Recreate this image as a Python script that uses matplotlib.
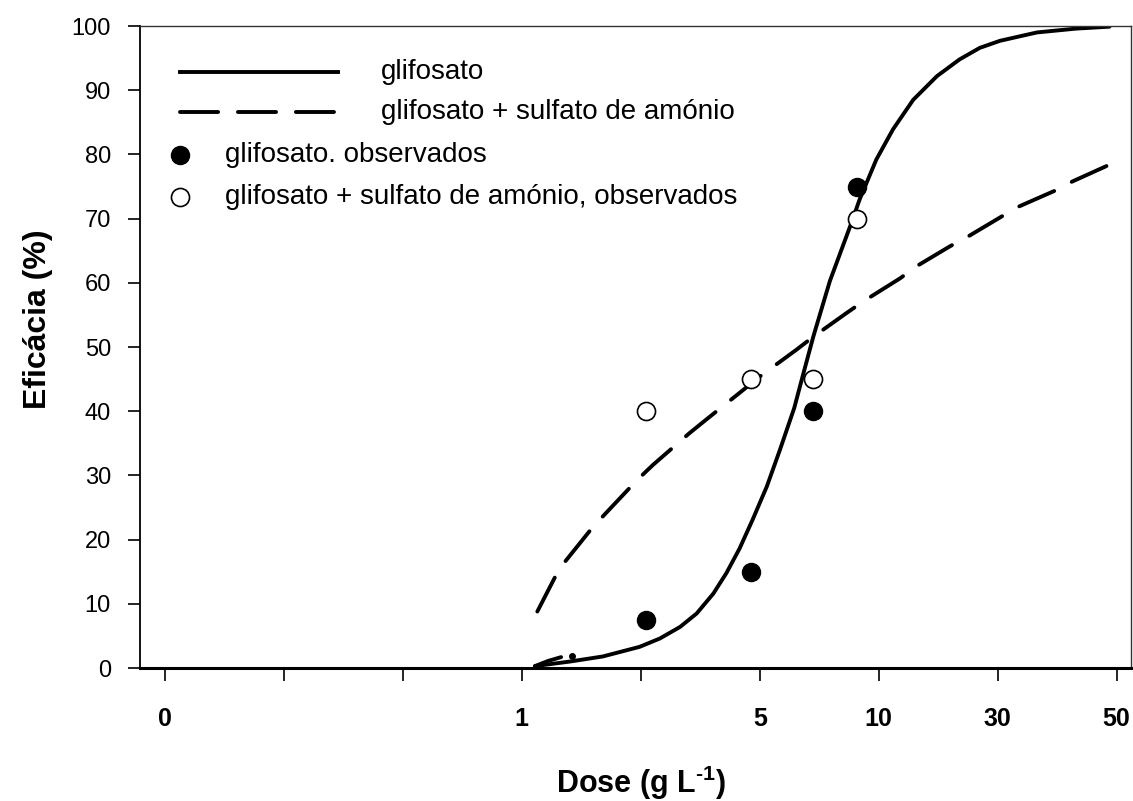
import matplotlib
matplotlib.use('Agg')
import matplotlib.pyplot as plt

plt.rcParams['font.family'] = ['Liberation Sans', 'DejaVu Sans']
plt.rcParams['mathtext.fontset'] = 'custom'
plt.rcParams['mathtext.bf'] = 'Liberation Sans:bold'
plt.rcParams['mathtext.rm'] = 'Liberation Sans:bold'

# x values are positions along the (irregularly labelled) dose axis, in tick steps
tick_pos = [0, 1, 2, 3, 4, 5, 6, 7, 8]
tick_labels = ['0', '', '', '1', '', '5', '10', '30', '50']
y_ticks = [0, 10, 20, 30, 40, 50, 60, 70, 80, 90, 100]

# observed efficacy
x_obs = [4.04, 4.93, 5.45, 5.82]
glif_obs = [7.5, 15, 40, 75]
glif_sa_obs = [40, 45, 45, 70]

# fitted curve, glifosato
glif_x = [3.11, 3.40, 3.68, 3.99, 4.16, 4.33, 4.47, 4.61, 4.72, 4.83, 4.94, 5.06,
          5.17, 5.29, 5.36, 5.45, 5.59, 5.76, 5.84, 5.98, 6.12, 6.29, 6.49, 6.68,
          6.85, 7.02, 7.33, 7.66, 7.94]
glif_y = [0.3, 1.0, 1.8, 3.3, 4.6, 6.4, 8.5, 11.6, 14.8, 18.6, 23.1, 28.3,
          34.0, 40.5, 45.4, 51.6, 60.3, 68.8, 73.0, 79.2, 83.9, 88.5, 92.2, 94.8,
          96.6, 97.7, 99.0, 99.6, 99.9]

# fitted curve, glifosato + sulfato de amonio
sa_x = [3.13, 3.28, 3.36, 3.59, 3.70, 3.97, 4.10, 4.41, 4.55, 4.86, 5.00, 5.31,
        5.45, 5.73, 5.87, 6.18, 6.32, 6.60, 6.75, 7.04, 7.18, 7.50, 7.63, 7.94]
sa_y = [8.8, 14.2, 16.5, 21.8, 24.0, 29.3, 31.6, 36.6, 38.7, 43.3, 45.4, 49.6,
        51.6, 55.3, 57.1, 60.7, 62.6, 65.7, 67.2, 70.4, 71.9, 74.5, 75.8, 78.4]

# small stray dash-dot fragment near the start of the curves
frag_x = [3.11, 3.22, 3.33]
frag_y = [0.3, 1.1, 1.7]
frag_dot_x = [3.42]
frag_dot_y = [1.9]

fig = plt.figure(figsize=(11.33, 8.01), dpi=100)
ax = fig.add_axes([0.1236, 0.166, 0.8745, 0.8015])

dash = (9.8, 5.1)
ax.plot(glif_x, glif_y, color='black', lw=2.8, solid_capstyle='round', solid_joinstyle='round')
ax.plot(sa_x, sa_y, color='black', lw=2.8, dashes=dash, dash_capstyle='round')
ax.plot(frag_x, frag_y, color='black', lw=2.8, solid_capstyle='round')
ax.plot(frag_dot_x, frag_dot_y, 'o', color='black', ms=4)

ax.plot(x_obs, glif_obs, 'o', color='black', ms=13, zorder=5)
ax.plot(x_obs, glif_sa_obs, 'o', mfc='white', mec='black', mew=1.2, ms=13, zorder=5)

ax.set_xlim(-0.21, 8.12)
ax.set_ylim(0, 100)
ax.set_xticks(tick_pos)
ax.set_xticklabels(tick_labels, fontsize=18, fontweight='bold')
ax.set_yticks(y_ticks)
ax.tick_params(axis='y', labelsize=17, length=9, width=1.2, pad=12)
ax.tick_params(axis='x', length=9, width=1.2, pad=19)

ax.spines['bottom'].set_linewidth(2.2)
ax.spines['left'].set_linewidth(1.3)
ax.spines['top'].set_linewidth(1.0)
ax.spines['right'].set_linewidth(1.0)
ax.spines['top'].set_color('#333333')
ax.spines['right'].set_color('#333333')

ax.set_ylabel('Eficácia (%)', fontsize=23, fontweight='bold')
ax.yaxis.set_label_coords(-0.088, 0.544)
ax.set_xlabel(r'Dose (g L$^{\text{-}1}$)', fontsize=22, fontweight='bold')
ax.xaxis.label.set_va('center')
ax.xaxis.set_label_coords(0.5055, -0.179)

# legend, drawn by hand to keep the original layout
tr = ax.transAxes
ax.plot([0.040, 0.200], [0.928, 0.928], color='black', lw=2.8, transform=tr, clip_on=False)
ax.text(0.243, 0.928, 'glifosato', fontsize=20, va='center', transform=tr)
ax.plot([0.040, 0.200], [0.866, 0.866], color='black', lw=2.8, dashes=dash,
        dash_capstyle='round', transform=tr, clip_on=False)
ax.text(0.243, 0.866, 'glifosato + sulfato de amónio', fontsize=20, va='center', transform=tr)
ax.plot([0.040], [0.799], 'o', color='black', ms=13, transform=tr, clip_on=False)
ax.text(0.086, 0.799, 'glifosato. observados', fontsize=20, va='center', transform=tr)
ax.plot([0.040], [0.734], 'o', mfc='white', mec='black', mew=1.2, ms=13, transform=tr, clip_on=False)
ax.text(0.086, 0.734, 'glifosato + sulfato de amónio, observados', fontsize=20, va='center', transform=tr)

fig.savefig('out.png', dpi=100)
